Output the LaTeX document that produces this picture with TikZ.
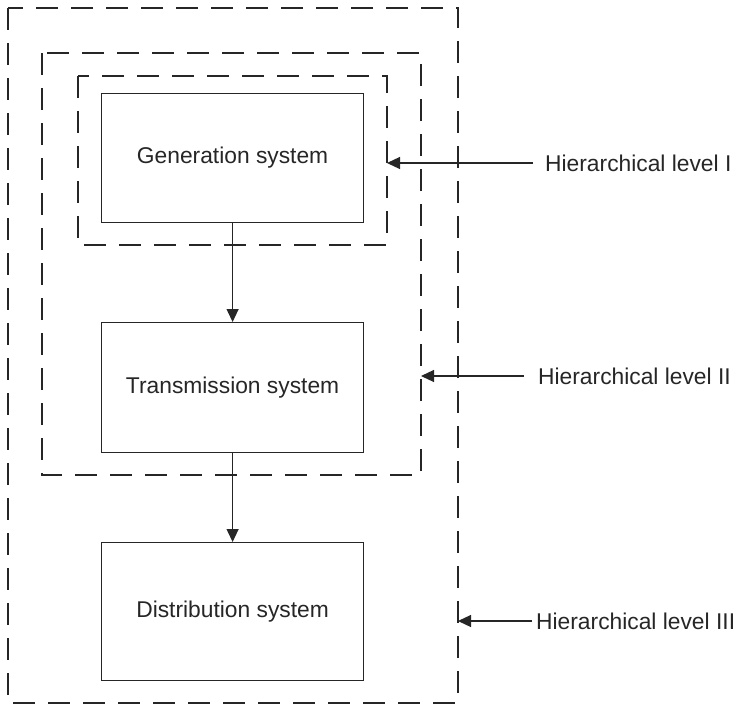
\documentclass[tikz,border=0pt]{standalone}
\usepackage{fontspec}
\setmainfont{Liberation Sans}
\usetikzlibrary{arrows.meta}
\begin{document}
\begin{tikzpicture}[x=1pt,y=-1pt,
  dbox/.style={draw=black!85,line width=1.3pt,dash pattern=on 22pt off 13pt},
  sysbox/.style={draw=black!85,line width=1.2pt,minimum width=262pt,anchor=north west,font=\fontsize{22.8}{27}\selectfont,text=black!85},
  arr/.style={draw=black!85,line width=1.2pt,-{Triangle[length=13pt,width=12pt]}},
  lbl/.style={font=\fontsize{22.8}{27}\selectfont,text=black!85,anchor=west,inner sep=0pt}]
\useasboundingbox (0,0) rectangle (739,704);
\draw[dbox] (8,8) rectangle (458,703);
\draw[dbox] (42,53) rectangle (421,475);
\draw[dbox] (78,76) rectangle (387,245);
\node[sysbox,minimum height=129pt] (gen) at (101,93) {Generation system};
\node[sysbox,minimum height=130pt] (tra) at (101,322) {Transmission system};
\node[sysbox,minimum height=138pt] (dis) at (101,542) {Distribution system};
\draw[arr] (gen.south) -- (tra.north);
\draw[arr] (tra.south) -- (dis.north);
\coordinate (t1) at (387,163);
\coordinate (t2) at (421,376);
\coordinate (t3) at (458,621);
\node[lbl] (l1) at (545,163) {Hierarchical level I};
\node[lbl] (l2) at (538,376) {Hierarchical level II};
\node[lbl] (l3) at (536,621) {Hierarchical level III};
\draw[arr] ([xshift=-12pt]l1.west) -- (t1);
\draw[arr] ([xshift=-14pt]l2.west) -- (t2);
\draw[arr] ([xshift=-4pt]l3.west) -- (t3);
\end{tikzpicture}
\end{document}
